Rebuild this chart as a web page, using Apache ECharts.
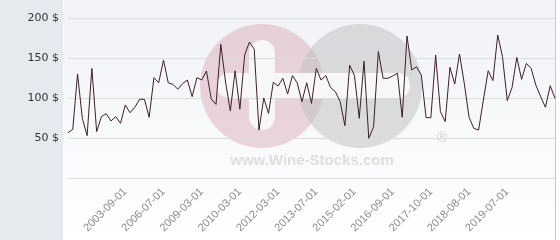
<!DOCTYPE html>
<html>
<head>
<meta charset="utf-8">
<script src="https://cdn.jsdelivr.net/npm/echarts@6/dist/echarts.min.js"></script>
<style>
html,body{margin:0;padding:0;background:#fff;}
#chart{width:560px;height:240px;}
</style>
</head>
<body>
<div id="chart"></div>
<script>
// Price series (one point per observation, in $)
const prices = [
  56.6, 60.8, 130, 74.6, 52.9, 137, 58, 76.6, 80.4, 71.3,
  76.6, 68.4, 91.3, 81.6, 88.4, 98.4, 98.4, 75.9, 125.4, 119.1,
  147.5, 119, 117, 111, 118, 122.5, 101.7, 125.4, 122.5, 133.7,
  98.7, 92, 167, 120, 83.7, 134, 86, 153.7, 170, 161,
  60, 100, 80.8, 119.6, 115, 124.6, 105, 128, 119, 95.4,
  119, 93.3, 137, 122.5, 128, 113, 108, 95.4, 65.4, 141,
  128, 74.6, 146, 49.6, 64, 158, 124.6, 124.6, 127.5, 131,
  75.9, 177.5, 135, 139, 128.8, 75.4, 75.4, 153.7, 83, 70.4,
  138.3, 117.5, 155, 118.3, 75.9, 62, 60, 97.5, 134, 121.7,
  178.7, 151.7, 96.7, 113, 150.8, 123.3, 143.3, 137, 116, 101.7,
  88.4, 115.4, 99.6
];
// Dates shown on the x axis
const tickLabels = ['2003-09-01','2006-07-01','2009-03-01','2010-03-01','2012-03-01',
  '2013-07-01','2015-02-01','2016-09-01','2017-10-01','2018-08-01','2019-07-01'];
const firstTickIndex = 12;
const tickStep = 8;
const yTicks = [0, 50, 100, 150, 200];

const categories = prices.map((_, i) => {
  const k = (i - firstTickIndex) / tickStep;
  return (i >= firstTickIndex && Number.isInteger(k) && k < tickLabels.length) ? tickLabels[k] : '';
});

const chart = echarts.init(document.getElementById('chart'), null, {renderer:'canvas'});
chart.setOption({
  animation: false,
  graphic: [
    {type:'rect', z:-20, shape:{x:0,y:0,width:63,height:240}, style:{fill:'#e6eaee'}},
    {type:'rect', z:-20, shape:{x:64,y:0,width:492,height:240},
      style:{fill:new echarts.graphic.LinearGradient(0,0,0,1,[{offset:0,color:'#f0f2f6'},{offset:1,color:'#ffffff'}])}},
    {type:'line', z:-20, shape:{x1:555.5,y1:0,x2:555.5,y2:240}, style:{stroke:'#c8c8c8',lineWidth:1}},
    {type:'circle', z:-10, shape:{cx:262,cy:86,r:62}, style:{fill:'rgba(215,160,175,0.42)'}},
    {type:'circle', z:-10, shape:{cx:360,cy:86,r:62}, style:{fill:'rgba(190,190,192,0.5)'}},
    {type:'rect', z:-9, shape:{x:217,y:73,width:193,height:25,r:12}, style:{fill:'#f7f7f9'}},
    {type:'rect', z:-9, shape:{x:249,y:40,width:26,height:90,r:13}, style:{fill:'#f7f7f9'}},
    {type:'text', z:-9, style:{x:312,y:161,text:'www.Wine-Stocks.com',fill:'#dedede',
      font:'bold 15px "Liberation Sans", Arial, sans-serif',align:'center',verticalAlign:'middle'}},
    {type:'text', z:-9, style:{x:442,y:138,text:'®',fill:'#d0d0d0',
      font:'14px "Liberation Sans", Arial, sans-serif',align:'center',verticalAlign:'middle'}}
  ],
  grid: {left:68, right:5, top:18, bottom:62, containLabel:false},
  xAxis: {
    type:'category', data:categories, boundaryGap:false,
    axisLine:{show:false}, axisTick:{show:false}, splitLine:{show:false},
    axisLabel:{
      rotate:45, margin:12, color:'#8c8c8c',
      fontFamily:'"Liberation Sans", Arial, sans-serif', fontSize:11,
      interval:(i, v) => v !== ''
    }
  },
  yAxis: {
    type:'value', min:yTicks[0], max:yTicks[yTicks.length-1], interval:50,
    axisLine:{show:false}, axisTick:{show:false},
    splitLine:{lineStyle:{color:'#dcdcdf',width:1}},
    axisLabel:{
      margin:9, color:'#333', fontFamily:'"DejaVu Sans", sans-serif', fontSize:11,
      formatter:v => v === 0 ? '' : v + ' $'
    }
  },
  series: [{
    type:'line', data:prices, symbol:'none',
    lineStyle:{color:'#3d1f2c', width:1}
  }]
});
</script>
</body>
</html>
